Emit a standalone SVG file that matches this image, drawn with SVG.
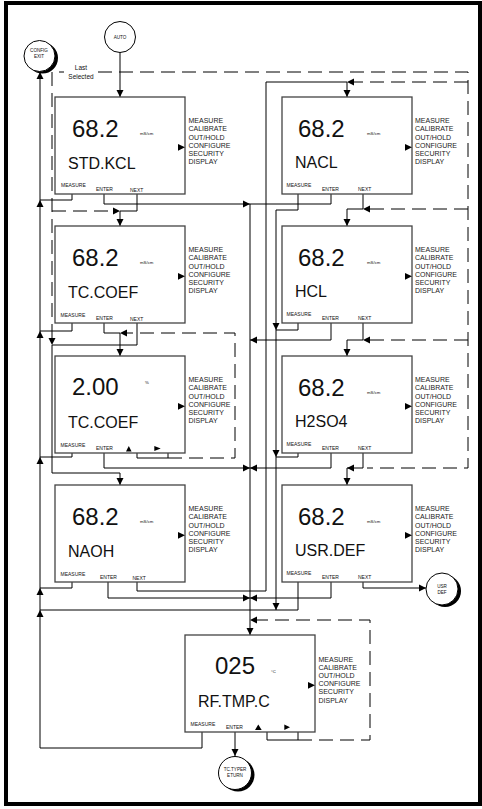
<svg xmlns="http://www.w3.org/2000/svg" xmlns:xlink="http://www.w3.org/1999/xlink" width="482" height="809" viewBox="0 0 482 809">
<style>
text{font-family:"Liberation Sans",Arial,sans-serif;fill:#111}
.box{fill:#fff;stroke:#444;stroke-width:1.3}
.val{font-size:24px}
.name{font-size:16px}
.unit{font-size:4.3px}
.lbl{font-size:5px}
.menu{font-size:7px;fill:#222}
.cl{font-size:4.6px;text-anchor:middle}
.ln{fill:none;stroke:#000;stroke-width:1}
.dash{fill:none;stroke:#000;stroke-width:1;stroke-dasharray:14 7}
.tri{fill:#000}
.frame{fill:none;stroke:#000;stroke-width:4}
.circ{fill:#fff;stroke:#000;stroke-width:1}
</style>
<defs>
<path id="ah" d="M0,0 L-7,-3.5 L-7,3.5 Z" fill="#000"/>
</defs>
<rect class="frame" x="6" y="3" width="474" height="801"/>

<g id="connectors">
<!-- AUTO to STD.KCL -->
<path class="ln" d="M120,52 V97"/>
<use href="#ah" transform="translate(120,97) rotate(90)"/>
<!-- main return line to CONFIG EXIT -->
<path class="ln" d="M40,748 V72"/>
<use href="#ah" transform="translate(40,72) rotate(-90)"/>
<!-- left MEASURE -->
<path class="ln" d="M72,194 V200 H40"/>
<use href="#ah" transform="translate(40,200) rotate(-90)"/>
<path class="ln" d="M72,323 V331 H40"/>
<use href="#ah" transform="translate(40,331) rotate(-90)"/>
<path class="ln" d="M72,453 V457 H40"/>
<use href="#ah" transform="translate(40,457) rotate(-90)"/>
<path class="ln" d="M72,582 V588 H40"/>
<use href="#ah" transform="translate(40,588) rotate(-90)"/>
<path class="ln" d="M202,732 V748 H40"/>
<!-- right MEASURE -->
<path class="ln" d="M298,194 V210 H276 V610"/>
<path class="ln" d="M298,323 V330 H276"/>
<use href="#ah" transform="translate(276,330) rotate(90)"/>
<path class="ln" d="M298,453 V457 H276"/>
<use href="#ah" transform="translate(276,457) rotate(90)"/>
<path class="ln" d="M298,582 V610 H40"/>
<use href="#ah" transform="translate(276,610) rotate(90)"/>
<use href="#ah" transform="translate(40,610) rotate(-90)"/>
<!-- ENTER lines -->
<path class="ln" d="M104,194 V204 H331 V194"/>
<use href="#ah" transform="translate(250,204)"/>
<path class="ln" d="M331,323 V340 H250"/>
<use href="#ah" transform="translate(250,340) rotate(180)"/>
<path class="ln" d="M104,453 V468 H331 V453"/>
<use href="#ah" transform="translate(250,468)"/>
<use href="#ah" transform="translate(250,468) rotate(180)"/>
<path class="ln" d="M108,582 V598 H331 V582"/>
<use href="#ah" transform="translate(250,598)"/>
<use href="#ah" transform="translate(250,598) rotate(180)"/>
<path class="ln" d="M250,204 V635"/>
<use href="#ah" transform="translate(250,635) rotate(90)"/>
<path class="ln" d="M104,323 V333 H120 V356"/>
<use href="#ah" transform="translate(120,356) rotate(90)"/>
<path class="ln" d="M235,732 V756"/>
<use href="#ah" transform="translate(235,756) rotate(90)"/>
<!-- NEXT lines -->
<path class="ln" d="M137,194 V211 H120 V226"/>
<use href="#ah" transform="translate(120,226) rotate(90)"/>
<path class="ln" d="M137,323 V345 H52 V473 H120 V485"/>
<use href="#ah" transform="translate(120,485) rotate(90)"/>
<path class="ln" d="M137,582 V591 H266 V82 H347 V97"/>
<use href="#ah" transform="translate(347,97) rotate(90)"/>
<path class="ln" d="M363,194 V209 H347 V226"/>
<use href="#ah" transform="translate(347,226) rotate(90)"/>
<path class="ln" d="M363,323 V340 H347 V356"/>
<use href="#ah" transform="translate(347,356) rotate(90)"/>
<path class="ln" d="M363,453 V468 H347 V485"/>
<use href="#ah" transform="translate(347,485) rotate(90)"/>
<path class="ln" d="M363,582 V588 H426"/>
<use href="#ah" transform="translate(426,588)"/>
<!-- Last selected dashed -->
<path class="dash" d="M52,338 V72 H64 M98,72 H468 V468 H367"/>
<use href="#ah" transform="translate(52,345) rotate(90)"/>
<path class="dash" d="M52,211 H113"/>
<use href="#ah" transform="translate(120,211)"/>
<path class="dash" d="M468,82 H354"/>
<use href="#ah" transform="translate(347,82) rotate(180)"/>
<path class="dash" d="M468,209 H370"/>
<use href="#ah" transform="translate(363,209) rotate(180)"/>
<path class="dash" d="M468,340 H370"/>
<use href="#ah" transform="translate(363,340) rotate(180)"/>
<use href="#ah" transform="translate(347,468) rotate(180)"/>
<!-- box 3 digit loop -->
<path class="ln" d="M137,453 V458 H168 M168,453 V458"/>
<path class="dash" d="M168,458 H235 V333 H127"/>
<use href="#ah" transform="translate(120,333) rotate(180)"/>
<!-- RF loop -->
<path class="ln" d="M267,732 V740 H298 M298,732 V740"/>
<path class="dash" d="M298,740 H370 V620 H257"/>
<use href="#ah" transform="translate(250,620) rotate(180)"/>
</g>

<g id="auto">
<circle class="circ" cx="120" cy="37" r="15.5"/>
<text class="cl" x="120" y="38.5">AUTO</text>
</g>
<g id="config-exit">
<circle cx="42.5" cy="58" r="15.5" fill="#000"/>
<circle class="circ" cx="39.5" cy="56" r="15.5"/>
<text class="cl" x="39" y="52">CONFIG</text>
<text class="cl" x="39" y="58">EXIT</text>
</g>
<g id="last-selected">
<text x="81" y="69.5" style="font-size:6.5px;text-anchor:middle">Last</text>
<text x="81" y="79" style="font-size:6.5px;text-anchor:middle">Selected</text>
</g>

<g id="n-stdkcl">
<rect class="box" x="55" y="97" width="130" height="97"/>
<text class="val" x="72" y="137">68.2</text>
<text class="unit" x="140" y="135">mS/cm</text>
<text class="name" x="68" y="169">STD.KCL</text>
<text class="lbl" x="61" y="187">MEASURE</text>
<text class="lbl" x="96" y="191">ENTER</text>
<text class="lbl" x="130" y="191.5">NEXT</text>
<text class="menu" x="188.5" y="123.3"><tspan x="188.5">MEASURE</tspan><tspan x="188.5" dy="8.15">CALIBRATE</tspan><tspan x="188.5" dy="8.15">OUT/HOLD</tspan><tspan x="188.5" dy="8.15">CONFIGURE</tspan><tspan x="188.5" dy="8.15">SECURITY</tspan><tspan x="188.5" dy="8.15">DISPLAY</tspan></text>
<path class="tri" d="M178,144 L185,147.3 L178,150.7 Z"/>
</g>

<g id="n-tccoef">
<rect class="box" x="55" y="226" width="130" height="97"/>
<text class="val" x="72" y="266">68.2</text>
<text class="unit" x="140" y="264">mS/cm</text>
<text class="name" x="68" y="298">TC.COEF</text>
<text class="lbl" x="60.5" y="317">MEASURE</text>
<text class="lbl" x="96" y="320">ENTER</text>
<text class="lbl" x="130" y="320.5">NEXT</text>
<text class="menu" x="188.5" y="252.3"><tspan x="188.5">MEASURE</tspan><tspan x="188.5" dy="8.15">CALIBRATE</tspan><tspan x="188.5" dy="8.15">OUT/HOLD</tspan><tspan x="188.5" dy="8.15">CONFIGURE</tspan><tspan x="188.5" dy="8.15">SECURITY</tspan><tspan x="188.5" dy="8.15">DISPLAY</tspan></text>
<path class="tri" d="M178,273 L185,276.3 L178,279.7 Z"/>
</g>

<g id="n-tccoef-val">
<rect class="box" x="55" y="356" width="130" height="97"/>
<text class="val" x="72" y="395">2.00</text>
<text class="unit" x="145" y="383.5">%</text>
<text class="name" x="68" y="428">TC.COEF</text>
<text class="lbl" x="60.5" y="447">MEASURE</text>
<text class="lbl" x="96" y="450">ENTER</text>
<path class="tri" d="M126,451.5 L128.8,446 L131.6,451.5 Z"/>
<path class="tri" d="M154.3,446 L160.7,448.5 L154.3,451 Z"/>
<text class="menu" x="188.5" y="382.3"><tspan x="188.5">MEASURE</tspan><tspan x="188.5" dy="8.15">CALIBRATE</tspan><tspan x="188.5" dy="8.15">OUT/HOLD</tspan><tspan x="188.5" dy="8.15">CONFIGURE</tspan><tspan x="188.5" dy="8.15">SECURITY</tspan><tspan x="188.5" dy="8.15">DISPLAY</tspan></text>
<path class="tri" d="M178,403 L185,406.3 L178,409.7 Z"/>
</g>

<g id="n-naoh">
<rect class="box" x="55" y="485" width="130" height="97"/>
<text class="val" x="72" y="525">68.2</text>
<text class="unit" x="140" y="523">mS/cm</text>
<text class="name" x="68" y="557">NAOH</text>
<text class="lbl" x="60.5" y="576">MEASURE</text>
<text class="lbl" x="100" y="578.5">ENTER</text>
<text class="lbl" x="132.5" y="579.5">NEXT</text>
<text class="menu" x="188.5" y="511.3"><tspan x="188.5">MEASURE</tspan><tspan x="188.5" dy="8.15">CALIBRATE</tspan><tspan x="188.5" dy="8.15">OUT/HOLD</tspan><tspan x="188.5" dy="8.15">CONFIGURE</tspan><tspan x="188.5" dy="8.15">SECURITY</tspan><tspan x="188.5" dy="8.15">DISPLAY</tspan></text>
<path class="tri" d="M178,532 L185,535.3 L178,538.7 Z"/>
</g>

<g id="n-nacl">
<rect class="box" x="282" y="97" width="130" height="97"/>
<text class="val" x="298" y="137">68.2</text>
<text class="unit" x="367" y="135">mS/cm</text>
<text class="name" x="295" y="168">NACL</text>
<text class="lbl" x="286.5" y="187">MEASURE</text>
<text class="lbl" x="322" y="191">ENTER</text>
<text class="lbl" x="358" y="191">NEXT</text>
<text class="menu" x="415" y="123.3"><tspan x="415">MEASURE</tspan><tspan x="415" dy="8.15">CALIBRATE</tspan><tspan x="415" dy="8.15">OUT/HOLD</tspan><tspan x="415" dy="8.15">CONFIGURE</tspan><tspan x="415" dy="8.15">SECURITY</tspan><tspan x="415" dy="8.15">DISPLAY</tspan></text>
<path class="tri" d="M405,144 L412,147.3 L405,150.7 Z"/>
</g>

<g id="n-hcl">
<rect class="box" x="282" y="226" width="130" height="97"/>
<text class="val" x="298" y="266">68.2</text>
<text class="unit" x="367" y="264">mS/cm</text>
<text class="name" x="295" y="297">HCL</text>
<text class="lbl" x="286.5" y="316">MEASURE</text>
<text class="lbl" x="322" y="320">ENTER</text>
<text class="lbl" x="358" y="320">NEXT</text>
<text class="menu" x="415" y="252.3"><tspan x="415">MEASURE</tspan><tspan x="415" dy="8.15">CALIBRATE</tspan><tspan x="415" dy="8.15">OUT/HOLD</tspan><tspan x="415" dy="8.15">CONFIGURE</tspan><tspan x="415" dy="8.15">SECURITY</tspan><tspan x="415" dy="8.15">DISPLAY</tspan></text>
<path class="tri" d="M405,273 L412,276.3 L405,279.7 Z"/>
</g>

<g id="n-h2so4">
<rect class="box" x="282" y="356" width="130" height="97"/>
<text class="val" x="298" y="396">68.2</text>
<text class="unit" x="367" y="394">mS/cm</text>
<text class="name" x="295" y="427">H2SO4</text>
<text class="lbl" x="286.5" y="446">MEASURE</text>
<text class="lbl" x="322" y="450">ENTER</text>
<text class="lbl" x="358" y="450">NEXT</text>
<text class="menu" x="415" y="382.3"><tspan x="415">MEASURE</tspan><tspan x="415" dy="8.15">CALIBRATE</tspan><tspan x="415" dy="8.15">OUT/HOLD</tspan><tspan x="415" dy="8.15">CONFIGURE</tspan><tspan x="415" dy="8.15">SECURITY</tspan><tspan x="415" dy="8.15">DISPLAY</tspan></text>
<path class="tri" d="M405,403 L412,406.3 L405,409.7 Z"/>
</g>

<g id="n-usrdef">
<rect class="box" x="282" y="485" width="130" height="97"/>
<text class="val" x="298" y="525">68.2</text>
<text class="unit" x="367" y="523">mS/cm</text>
<text class="name" x="295" y="556">USR.DEF</text>
<text class="lbl" x="286.5" y="575">MEASURE</text>
<text class="lbl" x="322" y="579">ENTER</text>
<text class="lbl" x="358" y="579">NEXT</text>
<text class="menu" x="415" y="511.3"><tspan x="415">MEASURE</tspan><tspan x="415" dy="8.15">CALIBRATE</tspan><tspan x="415" dy="8.15">OUT/HOLD</tspan><tspan x="415" dy="8.15">CONFIGURE</tspan><tspan x="415" dy="8.15">SECURITY</tspan><tspan x="415" dy="8.15">DISPLAY</tspan></text>
<path class="tri" d="M405,532 L412,535.3 L405,538.7 Z"/>
</g>

<g id="usr-def">
<circle cx="445" cy="591" r="16" fill="#000"/>
<circle class="circ" cx="442" cy="589" r="16"/>
<text class="cl" x="442" y="587.5">USR</text>
<text class="cl" x="442" y="593.5">DEF</text>
</g>

<g id="n-rftmpc">
<rect class="box" x="185" y="635" width="130" height="97"/>
<text class="val" x="215" y="674">025</text>
<text class="unit" x="271" y="673">°C</text>
<text class="name" x="198" y="707">RF.TMP.C</text>
<text class="lbl" x="190.5" y="726">MEASURE</text>
<text class="lbl" x="226" y="729">ENTER</text>
<path class="tri" d="M255,730 L258.3,724.5 L261.7,730 Z"/>
<path class="tri" d="M284.3,724.5 L290,727.3 L284.3,730 Z"/>
<text class="menu" x="318.5" y="661.8"><tspan x="318.5">MEASURE</tspan><tspan x="318.5" dy="8.15">CALIBRATE</tspan><tspan x="318.5" dy="8.15">OUT/HOLD</tspan><tspan x="318.5" dy="8.15">CONFIGURE</tspan><tspan x="318.5" dy="8.15">SECURITY</tspan><tspan x="318.5" dy="8.15">DISPLAY</tspan></text>
<path class="tri" d="M308,682 L315,685.3 L308,688.7 Z"/>
</g>

<g id="tc-type-return">
<circle cx="238" cy="775" r="16.5" fill="#000"/>
<circle class="circ" cx="235" cy="773" r="16.5"/>
<text class="cl" x="235" y="771">TC.TYPER</text>
<text class="cl" x="235" y="777">ETURN</text>
</g>
</svg>
